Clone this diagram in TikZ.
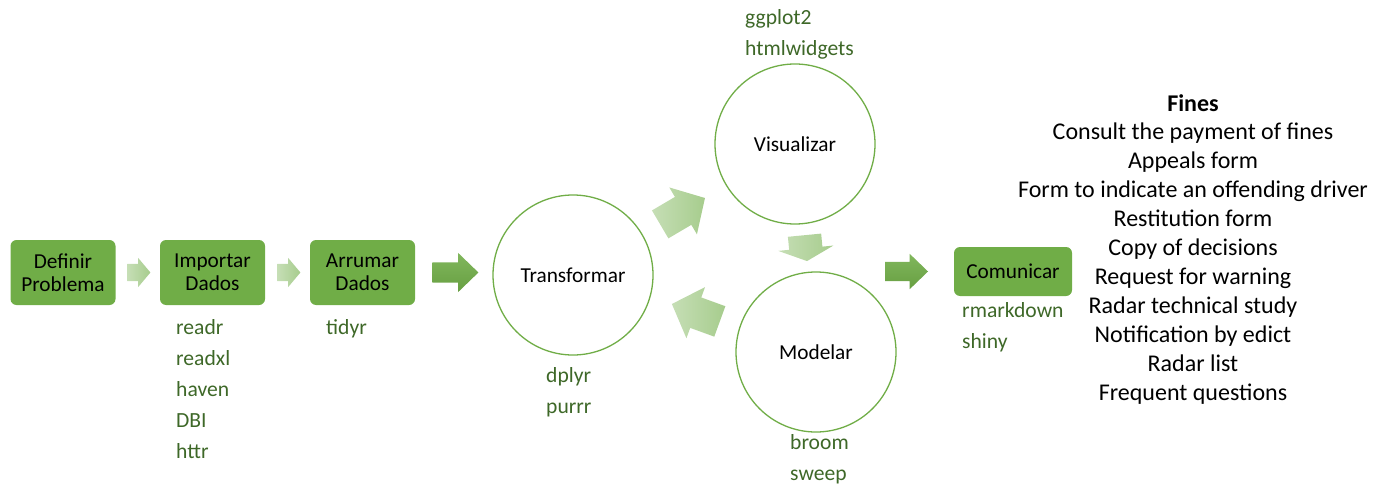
\documentclass[tikz,border=0pt]{standalone}
\usepackage{fontspec}
\setmainfont{Carlito}
\usetikzlibrary{shapes.arrows,positioning}
\definecolor{offgreen}{HTML}{70AD47}
\definecolor{pkggreen}{HTML}{3E6828}

\begin{document}
\begin{tikzpicture}[x=1pt,y=-1pt,
	stage/.style={rounded corners=6pt,fill=offgreen,text=black,align=center,inner sep=0,minimum width=105,minimum height=65,font=\fontsize{21.3}{22.6}\selectfont},
	cyc/.style={circle,draw=offgreen,line width=1.3pt,inner sep=0,minimum size=160,font=\fontsize{21.3}{25}\selectfont},
	pkgs/.style={anchor=north west,align=left,inner sep=0,text=pkggreen,font=\fontsize{21.6}{31}\selectfont},
	blockarr/.style={single arrow,draw=none,inner xsep=0,minimum width=0,single arrow head indent=0,anchor=tail},
	lightarr/.style={blockarr,left color=offgreen!40!white,right color=offgreen!62!white},
	darkarr/.style={blockarr,top color=offgreen!88!white,bottom color=offgreen!92!black}]
	\clip (0,0) rectangle (1384,484);

	%stages
	\node[stage] (def) at (63,272.5) {Definir\\Problema};
	\node[stage] (imp) at (212.5,272.5) {Importar\\Dados};
	\node[stage] (arr) at (362.5,272.5) {Arrumar\\Dados};
	\node[stage,minimum width=118,minimum height=49] (com) at (1013,271.5) {Comunicar};

	%cycle
	\node[cyc] (tra) at (573,275) {Transformar};
	\node[cyc] (vis) at (795,144) {Visualizar};
	\node[cyc] (mod) at (816,352) {Modelar};

	%arrows
	\node[lightarr,inner ysep=8.5,single arrow head extend=6,single arrow tip angle=100,minimum height=23] (a1) at ([xshift=11.5]def.east) {};
	\node[lightarr,inner ysep=8.5,single arrow head extend=6,single arrow tip angle=100,minimum height=23] (a2) at ([xshift=12]imp.east) {};
	\node[darkarr,inner ysep=10,single arrow head extend=9.5,single arrow tip angle=88,minimum height=46] (a3) at ([xshift=17]arr.east) {};
	\node[lightarr,inner ysep=16,single arrow head extend=11,single arrow tip angle=94,minimum height=52,rotate=30.5] (a4) at (660,224.5) {};
	\node[lightarr,inner ysep=16.5,single arrow head extend=11,single arrow tip angle=130,minimum height=26,rotate=-84.5] (a5) at (804.5,235) {};
	\node[lightarr,inner ysep=16,single arrow head extend=11,single arrow tip angle=94,minimum height=51,rotate=160] (a6) at (720,321.5) {};
	\node[darkarr,inner ysep=9.5,single arrow head extend=8,single arrow tip angle=88,minimum height=43] (a7) at ([xshift=-69]com.west) {};

	%packages
	\node[pkgs] (impp) at (176,319) {readr\\readxl\\haven\\DBI\\httr};
	\node[pkgs] (arrp) at (326,319) {tidyr};
	\node[pkgs] (trap) at (546,367) {dplyr\\purrr};
	\node[pkgs] (visp) at (745,9.5) {ggplot2\\htmlwidgets};
	\node[pkgs] (modp) at (790,434.5) {broom\\sweep};
	\node[pkgs] (comp) at (962,302) {rmarkdown\\shiny};

	%fines
	\node[anchor=north,align=center,inner sep=0,font=\fontsize{24}{28.9}\selectfont] (fines) at (1193,94) {\textbf{Fines}\\Consult the payment of fines\\Appeals form\\Form to indicate an offending driver\\Restitution form\\Copy of decisions\\Request for warning\\Radar technical study\\Notification by edict\\Radar list\\Frequent questions};
\end{tikzpicture}
\end{document}
